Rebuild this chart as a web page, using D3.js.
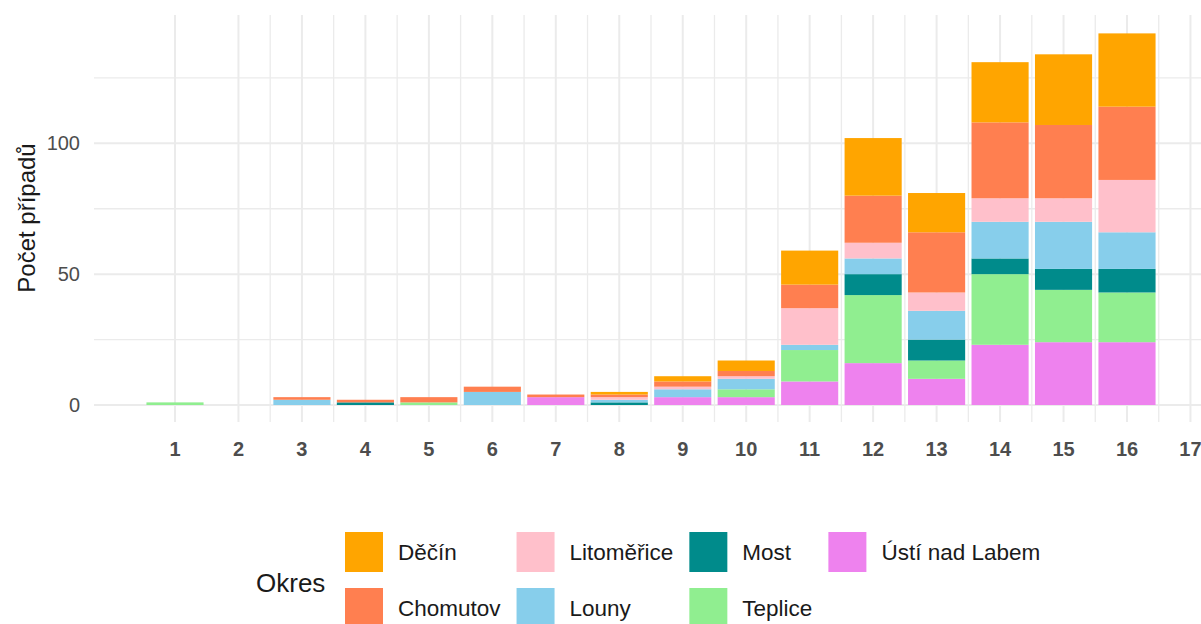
<!DOCTYPE html>
<html>
<head>
<meta charset="utf-8">
<script src="https://cdn.jsdelivr.net/npm/d3@7"></script>
<style>
  body { margin: 0; background: #fff; }
  svg text { font-family: "Liberation Sans", Arial, sans-serif; }
</style>
</head>
<body>
<script>
var w = 1201;
var h = 624;

// weeks on the x axis
var weeks = [1, 2, 3, 4, 5, 6, 7, 8, 9, 10, 11, 12, 13, 14, 15, 16];
var xTicks = [1, 2, 3, 4, 5, 6, 7, 8, 9, 10, 11, 12, 13, 14, 15, 16, 17];
var yTicks = [0, 50, 100];

// cases per district and week
var decin      = [0, 0, 0, 0, 0, 0, 0, 1, 2, 4, 13, 22, 15, 23, 27, 28];
var chomutov   = [0, 0, 1, 1, 2, 2, 1, 1, 2, 2, 9, 18, 23, 29, 28, 28];
var litomerice = [0, 0, 0, 0, 0, 0, 0, 1, 1, 1, 14, 6, 7, 9, 9, 20];
var louny      = [0, 0, 2, 0, 0, 5, 0, 1, 3, 4, 2, 6, 11, 14, 18, 14];
var most       = [0, 0, 0, 1, 0, 0, 0, 1, 0, 0, 0, 8, 8, 6, 8, 9];
var teplice    = [1, 0, 0, 0, 1, 0, 0, 0, 0, 3, 12, 26, 7, 27, 20, 19];
var usti       = [0, 0, 0, 0, 0, 0, 3, 0, 3, 3, 9, 16, 10, 23, 24, 24];

// legend order (top of stack first)
var okresy = ["Děčín", "Chomutov", "Litoměřice", "Louny", "Most", "Teplice", "Ústí nad Labem"];
var colors = ["#FFA500", "#FF7F50", "#FFC0CB", "#87CEEB", "#008B8B", "#90EE90", "#EE82EE"];
var series = [decin, chomutov, litomerice, louny, most, teplice, usti];

// build table for d3.stack
var table = weeks.map(function(wk, i) {
    var row = { week: wk };
    okresy.forEach(function(o, j) { row[o] = series[j][i]; });
    return row;
});

var panel = { left: 94, right: 1201, top: 15, bottom: 422 };

var x = d3.scaleLinear()
    .domain([1, 16])
    .range([175, 1127]);

var y = d3.scaleLinear()
    .domain([0, 100])
    .range([405, 143.3]);

var color = d3.scaleOrdinal().domain(okresy).range(colors);

var svg = d3.select("body")
    .append("svg")
    .attr("width", w)
    .attr("height", h);

// grid
var grid = svg.append("g");
var minorX = d3.range(2.5, 17, 1);
grid.selectAll(".vminor").data(minorX).enter().append("line")
    .attr("x1", function(d){ return x(d); }).attr("x2", function(d){ return x(d); })
    .attr("y1", panel.top).attr("y2", panel.bottom)
    .attr("stroke", "#EBEBEB").attr("stroke-width", 1.3);
grid.selectAll(".vmajor").data(xTicks).enter().append("line")
    .attr("x1", function(d){ return x(d); }).attr("x2", function(d){ return x(d); })
    .attr("y1", panel.top).attr("y2", panel.bottom)
    .attr("stroke", "#EBEBEB").attr("stroke-width", 2);
grid.selectAll(".hminor").data([25, 75, 125]).enter().append("line")
    .attr("x1", panel.left).attr("x2", panel.right)
    .attr("y1", function(d){ return y(d); }).attr("y2", function(d){ return y(d); })
    .attr("stroke", "#EBEBEB").attr("stroke-width", 1.3);
grid.selectAll(".hmajor").data(yTicks).enter().append("line")
    .attr("x1", panel.left).attr("x2", panel.right)
    .attr("y1", function(d){ return y(d); }).attr("y2", function(d){ return y(d); })
    .attr("stroke", "#EBEBEB").attr("stroke-width", 2);

// stacked bars: Ústí at the bottom, Děčín on top
var stack = d3.stack().keys(okresy.slice().reverse());
var layers = stack(table);
var bw = (x(2) - x(1)) * 0.9;

svg.append("g").selectAll("g")
    .data(layers)
    .enter()
    .append("g")
    .attr("fill", function(d){ return color(d.key); })
    .selectAll("rect")
    .data(function(d){ return d; })
    .enter()
    .append("rect")
    .attr("x", function(d){ return x(d.data.week) - bw / 2; })
    .attr("width", bw)
    .attr("y", function(d){ return y(d[1]); })
    .attr("height", function(d){ return y(d[0]) - y(d[1]); });

// axis labels
svg.append("g").selectAll("text")
    .data(yTicks).enter().append("text")
    .attr("x", 80)
    .attr("y", function(d){ return y(d); })
    .attr("dy", "0.35em")
    .attr("text-anchor", "end")
    .attr("font-size", 20)
    .attr("fill", "#4D4D4D")
    .text(function(d){ return d; });

svg.append("g").selectAll("text")
    .data(xTicks).enter().append("text")
    .attr("x", function(d){ return x(d); })
    .attr("y", 449)
    .attr("dy", "0.35em")
    .attr("text-anchor", "middle")
    .attr("font-size", 20)
    .attr("font-weight", "bold")
    .attr("fill", "#4D4D4D")
    .text(function(d){ return d; });

svg.append("text")
    .attr("transform", "translate(35,218) rotate(-90)")
    .attr("text-anchor", "middle")
    .attr("font-size", 24)
    .attr("fill", "#1a1a1a")
    .text("Počet případů");

// legend, 2 rows filled by column
var legend = svg.append("g");
legend.append("text")
    .attr("x", 256).attr("y", 583)
    .attr("dy", "0.35em")
    .attr("font-size", 26)
    .attr("fill", "#1a1a1a")
    .text("Okres");

var keyW = 38, keyH = 40, rowY = [532, 588];
var colX = 345;
for (var c = 0; c < Math.ceil(okresy.length / 2); c++) {
    var maxW = 0;
    for (var r = 0; r < 2; r++) {
        var idx = c * 2 + r;
        if (idx >= okresy.length) break;
        legend.append("rect")
            .attr("x", colX).attr("y", rowY[r])
            .attr("width", keyW).attr("height", keyH)
            .attr("fill", color(okresy[idx]));
        var t = legend.append("text")
            .attr("x", colX + keyW + 15)
            .attr("y", rowY[r] + keyH / 2)
            .attr("dy", "0.35em")
            .attr("font-size", 22.5)
            .attr("fill", "#1a1a1a")
            .text(okresy[idx]);
        maxW = Math.max(maxW, t.node().getComputedTextLength());
    }
    colX = colX + keyW + 15 + maxW + 16;
}
</script>
</body>
</html>
